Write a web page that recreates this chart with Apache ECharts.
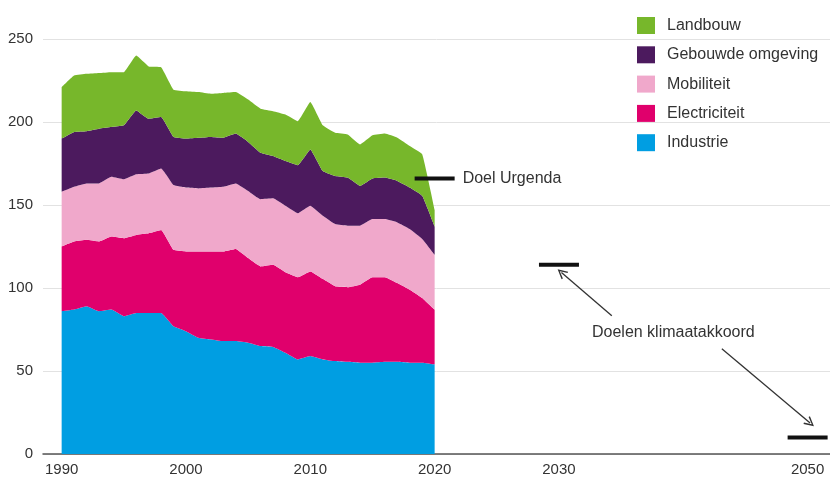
<!DOCTYPE html>
<html>
<head>
<meta charset="utf-8">
<script src="https://cdn.jsdelivr.net/npm/echarts@6/dist/echarts.min.js"></script>
<style>
html,body{margin:0;padding:0;background:#fff;}
#chart{width:830px;height:479px;}
</style>
</head>
<body>
<div id="chart"></div>
<script>
const years = [1990,1991,1992,1993,1994,1995,1996,1997,1998,1999,2000,2001,2002,2003,2004,2005,2006,2007,2008,2009,2010,2011,2012,2013,2014,2015,2016,2017,2018,2019,2020];
const industrie     = [86,87,89,86,87,83,85,85,85,77,74,70,69,68,68,67,65,64.5,61,57,59,57,56,55.5,55,55,55.5,55.5,55,55,54];
const electriciteit = [39,41,40,42,44,47,47,48,50,46,48,52,53,54,55.5,51,48,49.5,48.5,49.5,51,48.5,45,45,47,51.5,51,47.5,44,39,33];
const mobiliteit    = [33,33,34,35,36,35.5,36.5,36,37,39,38.5,38,38.5,39,39.5,40.5,40.5,40,40,38.5,39.5,38,37.5,37,35.5,35,35,36.5,36.5,35.5,33];
const gebouwd       = [32,33,31.5,33,30,32.5,38.5,33,31,29,29.5,30.5,30.5,29.5,30,29.5,28,25.5,27,29,34,27,29,29,24,24.5,25,25,25,26,17];
const landbouw      = [31,34,34.5,33.5,33,32,33,31.5,30,28.5,28.5,27.5,26,27,25,25.5,26.5,27,28,26.5,28.5,27.5,26,26,25,26,26.5,26,25,25,10];

const xTickLabels = [1990,2000,2010,2020,2030,2050];
const yTicks = [0,50,100,150,200,250];

const targetYears  = [2020,2030,2050];
const targetValues = [166,114,10];
const urgendaLabel = 'Doel Urgenda';

const akkoordLabel = 'Doelen klimaatakkoord';
const akkoordLabelPos = [2039.2, 73];
const arrowFrom = [[2034.25, 83.3],[2043.1, 63.4]];
const arrowTo   = [[2030.2, 109.3],[2050.2, 18.7]];

const seriesNames = ['Industrie','Electriciteit','Mobiliteit','Gebouwde omgeving','Landbouw'];
const seriesData = [industrie, electriciteit, mobiliteit, gebouwd, landbouw];
const colors = ['#009ee2','#e0006c','#f0a8cb','#4c1a5e','#77b72b'];

const FONT = '"Liberation Sans", Arial, sans-serif';
const TXT = '#333333';

// data as [value, year] so that the value column is the stacked one
const areaSeries = seriesNames.map((name, i) => ({
  name: name,
  type: 'line',
  stack: 'total',
  data: years.map((y, j) => [seriesData[i][j], y]),
  encode: { x: 1, y: 0 },
  smooth: 0.1,
  showSymbol: false,
  symbol: 'none',
  lineStyle: { width: 0 },
  areaStyle: { color: colors[i], opacity: 1 },
  itemStyle: { color: colors[i] },
  color: colors[i],
  z: 2
}));

const chevron = 'path://M0,10 L5,0 L10,10 L8.6,10.6 L5,3 L1.4,10.6 Z';

const labelStyle = { color: TXT, fontSize: 16, fontFamily: FONT, opacity: 1, textBorderWidth: 0 };

const targetSeries = {
  name: 'targets',
  type: 'scatter',
  data: targetYears.map((y, i) => ({
    value: [y, targetValues[i]],
    label: i === 0 ? Object.assign({ show: true, formatter: urgendaLabel, position: 'right', distance: 8 }, labelStyle)
                   : { show: false }
  })),
  symbol: 'rect',
  symbolSize: [40, 4],
  itemStyle: { color: '#111111', opacity: 1 },
  clip: false,
  silent: true,
  z: 5,
  markLine: {
    silent: true,
    symbol: ['none', chevron],
    symbolSize: 10,
    lineStyle: { color: '#333333', width: 1.3, type: 'solid' },
    itemStyle: { color: '#333333' },
    label: { show: false },
    data: arrowFrom.map((f, i) => [{ coord: f }, { coord: arrowTo[i] }])
  }
};

const labelSeries = {
  name: 'annot',
  type: 'scatter',
  data: [{ value: akkoordLabelPos }],
  symbolSize: 0,
  itemStyle: { color: 'rgba(0,0,0,0)', opacity: 1 },
  label: Object.assign({ show: true, formatter: akkoordLabel, position: 'inside' }, labelStyle),
  silent: true,
  z: 5
};

const chart = echarts.init(document.getElementById('chart'), null, { renderer: 'canvas' });
chart.setOption({
  animation: false,
  backgroundColor: '#ffffff',
  textStyle: { fontFamily: FONT },
  grid: { left: 43, right: 0, top: 39, bottom: 25, containLabel: false },
  legend: {
    data: ['Landbouw','Gebouwde omgeving','Mobiliteit','Electriciteit','Industrie'],
    orient: 'vertical',
    left: 632,
    top: 12,
    icon: 'rect',
    itemWidth: 18,
    itemHeight: 17,
    itemGap: 12.3,
    selectedMode: false,
    textStyle: { color: TXT, fontSize: 16, fontFamily: FONT, padding: [0, 0, 0, 7] }
  },
  xAxis: {
    type: 'value',
    min: 1988.5,
    max: 2051.8,
    axisLine: { show: true, lineStyle: { color: '#555555', width: 1.5 } },
    axisTick: { show: false },
    splitLine: { show: false },
    axisLabel: {
      customValues: xTickLabels,
      color: TXT, fontSize: 15, fontFamily: FONT, margin: 8,
      formatter: v => String(v)
    }
  },
  yAxis: {
    type: 'value',
    min: 0,
    max: 250,
    interval: 50,
    axisLine: { show: false },
    axisTick: { show: false },
    splitLine: { show: true, lineStyle: { color: '#e2e2e2', width: 1 } },
    axisLabel: { color: TXT, fontSize: 15, fontFamily: FONT, margin: 10,
      formatter: v => yTicks.indexOf(v) >= 0 ? String(v) : '' }
  },
  series: areaSeries.concat([targetSeries, labelSeries])
});
</script>
</body>
</html>
